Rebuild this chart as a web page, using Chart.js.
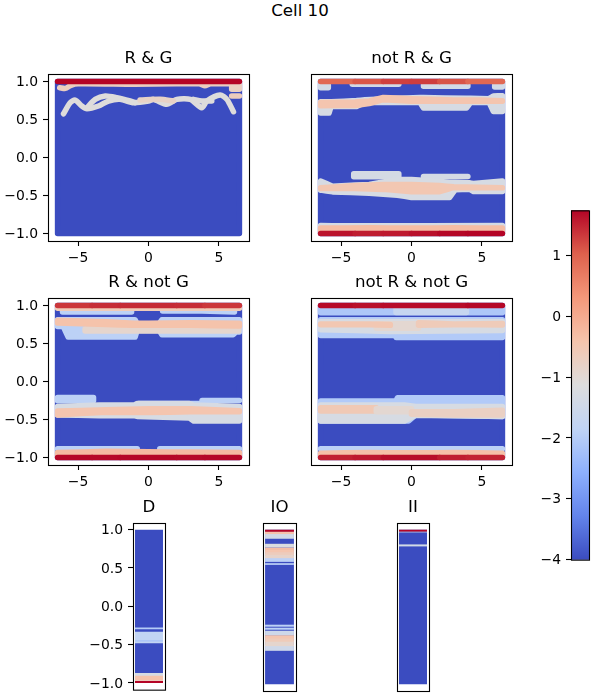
<!DOCTYPE html>
<html><head><meta charset="utf-8">
<script src="https://cdn.jsdelivr.net/npm/chart.js@4"></script>
<style>
html,body{margin:0;padding:0;background:#fff;width:600px;height:700px;overflow:hidden}
canvas{position:absolute}
#sup{position:absolute;left:0;top:1px;width:600px;text-align:center;font:16.67px/19px "DejaVu Sans";color:#000}
</style></head><body>
<div id="sup">Cell 10</div>
<script>
// ---- data: each band is [colour value, x[], lower y[], upper y[]]
const LEFT = -6.45, RIGHT = 6.45;
const base = [-4, [LEFT, RIGHT], [-1, -1], [1, 1]];

const bandsRG = [
  base,
  [-0.7, [-6.3,-5.9,-5.5,-5,-1,2,3.6,4,4.4,5.8,6.45], [.92,.91,.95,.97,.965,.97,.97,.945,.97,.97,.97]],
  [-0.75, [5.9,6.45], [.90,.90], [.95,.95]],
  [-0.65, [5.9,6.45], [.81,.81]],
  [-1.1, [-6.03,-5.56,-5.2,-4.73,-4.37,-3.55,-2.84,-2.01,-1.06,0,.35,1.3,2.01,2.96,3.78,4.14,5.08,5.56,6.03],
          [.576,.722,.757,.678,.642,.678,.744,.766,.722,.744,.766,.70,.766,.766,.656,.744,.823,.766,.603]],
  [-1.1, [-4.37,-3.78,-3.07,-2.25,-1.3,-.95], [.656,.766,.81,.788,.744,.722]],
  [-1.1, [3.19,3.78,4.49], [.766,.744,.744]],
  [-0.8, [-.6,.83,1.77], [.757,.766,.744]],
  [1.74, [LEFT, RIGHT], [1, 1]],
];

const bandsNotRG = [
  base,
  [-1.4, [LEFT,-5.9], [.918,.918], [.96,.96]],
  [-1.4, [-4.2,-.9], [.965,.965]],
  [-1.4, [.85,4], [.938,.938], [.96,.96]],
  [-1.4, [5.9,RIGHT], [.93,.93], [.96,.96]],
  [-1.3, [LEFT,-5.85,-5.7,-3.9,-3.3,.6,.85,3.9,4.2,5.5,5.8,RIGHT],
         [.585,.585,.673,.673,.726,.726,.651,.651,.726,.726,.607,.607],
         [.735,.735,.735,.75,.762,.79,.79,.78,.78,.775,.81,.815]],
  [-0.45, [LEFT,-4,-3,-2,0,3,5,RIGHT],
         [.682,.686,.71,.762,.74,.74,.74,.74],
         [.726,.73,.744,.79,.775,.757,.757,.748]],
  [-1.35, [-4.1,-.9], [-.254,-.254], [-.214,-.214]],
  [-1.35, [.85,4], [-.25,-.25]],
  [-1.3, [LEFT,-5.6,-3,-1,0,2.7,3.1,4.1,4.4,RIGHT],
         [-.43,-.453,-.47,-.497,-.528,-.528,-.426,-.417,-.448,-.448],
         [-.311,-.378,-.355,-.29,-.29,-.325,-.325,-.333,-.342,-.311]],
  [-0.5, [LEFT,-4,-2,0,2,3,RIGHT],
         [-.408,-.408,-.42,-.45,-.45,-.395,-.40],
         [-.40,-.37,-.355,-.355,-.37,-.385,-.40]],
  [-1.35, [LEFT,-4.8,-4,RIGHT], [-.895,-.9,-.9,-.895]],
  [-0.3, [LEFT,-3,0,3,RIGHT], [-.97,-.97,-.97,-.97,-.97], [-.93,-.925,-.93,-.925,-.93]],
  [[.85,1.0,1.2,1.35,1.25,1.0,.85], [LEFT,-4,-2,0,2,4,RIGHT], [1,1,1,1,1,1,1]],
  [[1.7,1.55,1.55,1.6,1.7,1.74,1.74], [LEFT,-4,-2,0,2,4,RIGHT], [-1,-1,-1,-1,-1,-1,-1]],
];

const bandsRNotG = [
  base,
  [-1.9, [-6.1,-1.2], [.916,.916], [.96,.96]],
  [-1.9, [1,3.8,6.1], [.93,.93,.916], [.96,.96,.96]],
  [-0.6, [LEFT,RIGHT], [.965,.965]],
  [-1.9, [LEFT,-6.05,-5.7,-.95,-.8,.75,.95,6,6.2,RIGHT],
         [.726,.726,.585,.585,.673,.673,.616,.616,.651,.651],
         [.815,.815,.815,.815,.757,.757,.815,.815,.815,.815]],
  [-0.9, [-4.5,-.5,1,6.4], [.665,.665,.665,.665], [.69,.69,.69,.69]],
  [-0.4, [LEFT,-3,-1,0,3,RIGHT],
         [.77,.75,.74,.74,.74,.73],
         [.806,.788,.766,.766,.775,.766]],
  [-1.9, [LEFT,-3.9], [-.254,-.254], [-.21,-.21]],
  [-1.9, [-.7,3.9], [-.29,-.29]],
  [-1.9, [3.8,RIGHT], [-.25,-.25]],
  [-1.3, [LEFT,-3.5,-1,-.8,2.9,3.2,RIGHT],
         [-.44,-.45,-.45,-.46,-.48,-.52,-.52],
         [-.33,-.31,-.31,-.29,-.29,-.31,-.33]],
  [-0.45, [LEFT,-3,0,3,RIGHT],
         [-.44,-.404,-.41,-.40,-.40],
         [-.39,-.373,-.36,-.36,-.386]],
  [-1.9, [LEFT,-.8], [-.885,-.885]],
  [-1.9, [.8,RIGHT], [-.885,-.885]],
  [-0.25, [LEFT,-3,0,3,RIGHT], [-.97,-.97,-.97,-.97,-.97], [-.935,-.92,-.925,-.93,-.935]],
  [[1.3,1.4,1.45,1.45,1.45,1.4,1.3], [LEFT,-4,-2,0,2,4,RIGHT], [1,1,1,1,1,1,1]],
  [[1.74,1.7,1.7,1.74,1.7,1.7,1.74], [LEFT,-4,-2,0,2,4,RIGHT], [-1,-1,-1,-1,-1,-1,-1]],
];

const bandsNotRNotG = [
  base,
  [-2.1, [LEFT,RIGHT], [.907,.907], [.965,.965]],
  [-1.7, [-1.1,3.9], [.91,.91], [.96,.96]],
  [-2.05, [LEFT,-1.15,-1.1,RIGHT], [.607,.607,.58,.58], [.815,.815,.815,.815]],
  [-1.3, [LEFT,-1.5,RIGHT], [.682,.66,.673], [.79,.79,.79]],
  [-0.95, [-2.5,.5], [.70,.70], [.76,.76]],
  [-0.5, [LEFT,-3,-1.5], [.748,.748,.74], [.757,.757,.75]],
  [-0.6, [.5,3,RIGHT], [.74,.748,.745], [.775,.757,.765]],
  [-2.05, [LEFT,-1.1,-1,-.2,.3,RIGHT],
         [-.52,-.52,-.52,-.52,-.44,-.46],
         [-.258,-.258,-.214,-.214,-.214,-.214]],
  [-1.3, [LEFT,-.5,.3,RIGHT], [-.52,-.52,-.444,-.46], [-.31,-.31,-.33,-.33]],
  [-0.55, [LEFT,-2.5], [-.387,-.387], [-.347,-.347]],
  [-0.95, [-2.5,0], [-.40,-.40], [-.36,-.36]],
  [-0.75, [0,3,RIGHT], [-.43,-.44,-.44], [-.40,-.40,-.38]],
  [-1.9, [LEFT,RIGHT], [-.885,-.885]],
  [-0.35, [LEFT,-3,0,3,RIGHT], [-.97,-.97,-.97,-.97,-.97], [-.945,-.935,-.94,-.935,-.945]],
  [[1.5,1.55,1.6,1.74,1.6,1.5,1.5], [LEFT,-4,-2,0,2,4,RIGHT], [-1,-1,-1,-1,-1,-1,-1]],
  [[1.74,1.65,1.65,1.7,1.65,1.7,1.74], [LEFT,-4,-2,0,2,4,RIGHT], [1,1,1,1,1,1,1]],
];

// strips: [colour value, lower y, upper y]; earlier rows lie under later ones
const stripD = [
  [-4,-.87,1], [-2.0,-.299,-.277], [-1.8,-.481,-.333], [-2.2,-.459,-.442],
  [-1.3,-.975,-.87], [-.4,-.97,-.905], [1.74,-1,-.975],
];
const stripIO = [
  [-4,-1,1], [-1.4,.883,.974], [-.4,.944,.98], [1.74,.974,1],
  [-1.9,.584,.66], [-.85,.632,.69], [-.65,.675,.72], [-.45,.71,.75], [-.3,.74,.771], [-1.2,.771,.818],
  [-1.9,.545,.567], [-1.9,-.255,-.229], [-1.9,-.294,-.268],
  [-1.5,-.567,-.49], [-.9,-.506,-.44], [-.6,-.45,-.40], [-.45,-.407,-.364], [-1.5,-.364,-.307],
];
const stripII = [[-4,-1,1], [1.74,.974,1], [-1.4,.965,.974], [-1.4,.784,.81]];

const colorbarRange = [-4, 1.74];
const coolwarmStops = [[59,76,192],[99,132,235],[141,176,254],[192,212,245],[221,221,221],[245,196,172],[244,152,122],[222,97,77],[180,4,38]];

// ---- helpers
const VMIN = -4, VMAX = 1.74;
function coolwarm(v){
  const t = Math.min(1, Math.max(0, (v - VMIN) / (VMAX - VMIN))) * (coolwarmStops.length - 1);
  const i = Math.min(coolwarmStops.length - 2, Math.floor(t)), f = t - i;
  const c = coolwarmStops[i].map((a, k) => Math.round(a + (coolwarmStops[i + 1][k] - a) * f));
  return `rgb(${c[0]},${c[1]},${c[2]})`;
}
const minus = s => String(s).replace('-', '\u2212');
Chart.defaults.font.family = '"DejaVu Sans"';
Chart.defaults.font.size = 13.9;
Chart.defaults.color = '#000';
Chart.defaults.animation = false;
const framePlugin = {id:'frame', afterDraw(c){
  const a = c.chartArea, g = c.ctx; g.save(); g.strokeStyle = '#000'; g.lineWidth = 1.1;
  g.strokeRect(a.left + .5, a.top + .5, a.right - a.left, a.bottom - a.top); g.restore();
}};
const TITLE_H = 24, AXIS_H = 26, AXIS_W = 44, PAD_R = 14;
function place(id, left, top, w, h){
  const c = document.createElement('canvas');
  c.id = id; c.width = w; c.height = h;
  c.style.left = left + 'px'; c.style.top = top + 'px';
  c.style.width = w + 'px'; c.style.height = h + 'px';
  document.body.appendChild(c); return c;
}
const tickGrid = {display:true, drawOnChartArea:false, drawTicks:true, tickLength:5, tickColor:'#000', tickWidth:1.1};
function titleOpt(text){
  return {display:true, text, color:'#000', fullSize:false, font:{size:16.67, weight:'normal', lineHeight:1}, padding:{top:0, bottom:TITLE_H - 16.67}};
}
function bandDatasets(bands){
  const out = [];
  const common = {showLine:true, pointRadius:0, borderWidth:5.5, borderCapStyle:'round', borderJoinStyle:'round', spanGaps:true};
  bands.forEach(b => {
    const [v, xs, lo, hi] = b;
    const vals = Array.isArray(v) ? v : null;
    const col = vals ? coolwarm(vals[0]) : coolwarm(v);
    if (hi) {
      // outline: along the lower edge, back along the upper edge, closed
      const path = xs.map((x,i)=>({x, y:lo[i]}));
      for (let i = xs.length - 1; i >= 0; i--) path.push({x:xs[i], y:hi[i]});
      path.push({x:xs[0], y:lo[0]});
      out.unshift({...common, tension:0.001, borderColor:col, backgroundColor:col, fill:'shape', data:path});
    } else {
      const ds = {...common, tension:vals ? 0 : 0.25, borderColor:col, fill:false, data:xs.map((x,i)=>({x, y:lo[i]}))};
      if (vals) ds.segment = {borderColor: ctx => coolwarm((vals[ctx.p0DataIndex] + vals[ctx.p1DataIndex]) / 2)};
      out.unshift(ds);
    }
  });
  return out;
}
function scatterPanel(id, title, bands, left, top, showY){
  const W = 201, H = 167;
  const cv = place(id, left - AXIS_W, top - TITLE_H, AXIS_W + W + PAD_R, TITLE_H + H + AXIS_H);
  new Chart(cv, {
    type:'scatter',
    data:{datasets:bandDatasets(bands)},
    plugins:[framePlugin],
    options:{
      responsive:false, devicePixelRatio:1,
      layout:{padding:{left:0, right:PAD_R, top:0, bottom:0}},
      plugins:{legend:{display:false}, tooltip:{enabled:false}, title:titleOpt(title)},
      scales:{
        x:{type:'linear', min:-7.13, max:7.13, border:{display:false}, grid:tickGrid,
           ticks:{stepSize:5, includeBounds:false, maxRotation:0, padding:4, callback:v=>minus(v)},
           afterFit:s=>{s.height = AXIS_H;}},
        y:{display:showY, type:'linear', min:-1.1, max:1.1, border:{display:false}, grid:tickGrid,
           ticks:{stepSize:.5, includeBounds:false, padding:5, labelOffset:1, callback:v=>minus(Number(v).toFixed(1))},
           afterFit:s=>{s.width = AXIS_W;}},
      },
    },
  });
}
function stripPanel(id, title, strip, left, w, showY){
  const top = 523, H = 168, extra = 12;
  const cv = place(id, left - AXIS_W, top - TITLE_H, AXIS_W + w + PAD_R, TITLE_H + H + extra);
  new Chart(cv, {
    type:'bar',
    data:{labels:[title], datasets:strip.slice().reverse().map(r => ({
      data:[[r[1], r[2]]], backgroundColor:coolwarm(r[0]), borderWidth:0, barPercentage:.875, categoryPercentage:1,
    }))},
    plugins:[framePlugin],
    options:{
      responsive:false, devicePixelRatio:1,
      layout:{padding:{left:0, right:PAD_R, top:0, bottom:0}},
      plugins:{legend:{display:false}, tooltip:{enabled:false}, title:titleOpt(title)},
      scales:{
        x:{stacked:true, border:{display:false}, grid:{display:false}, ticks:{display:false}, afterFit:s=>{s.height = extra;}},
        y:{display:showY, type:'linear', min:-1.087, max:1.087, border:{display:false}, grid:tickGrid,
           ticks:{stepSize:.5, includeBounds:false, padding:5, labelOffset:1, callback:v=>minus(Number(v).toFixed(1))},
           afterFit:s=>{s.width = AXIS_W;}},
      },
    },
  });
}
function colorbar(left, top, w, h){
  const cv = place('cbar', left - 44, top - 13, w + 44 + 2, h + 26);
  const stops = coolwarmStops;
  new Chart(cv, {
    type:'bar',
    data:{labels:[''], datasets:[{
      data:[colorbarRange],
      borderWidth:0, barPercentage:1, categoryPercentage:1,
      backgroundColor(ctx){
        const a = ctx.chart.chartArea; if (!a) return '#888';
        const g = ctx.chart.ctx.createLinearGradient(0, a.bottom, 0, a.top);
        stops.forEach((c,i)=>g.addColorStop(i/(stops.length-1), `rgb(${c[0]},${c[1]},${c[2]})`));
        return g;
      },
    }]},
    plugins:[framePlugin],
    options:{
      responsive:false, devicePixelRatio:1,
      layout:{padding:{top:8, bottom:8, left:0, right:2}},
      plugins:{legend:{display:false}, tooltip:{enabled:false}},
      scales:{
        x:{border:{display:false}, grid:{display:false}, ticks:{display:false}, afterFit:s=>{s.height = 0;}},
        y:{position:'left', type:'linear', min:colorbarRange[0], max:colorbarRange[1], border:{display:false}, grid:tickGrid,
           ticks:{stepSize:1, includeBounds:false, padding:5, labelOffset:1, callback:v=>minus(v)},
           afterFit:s=>{s.width = 44;}},
      },
    },
  });
}
scatterPanel('p1','R & G',bandsRG,48,74,true);
scatterPanel('p2','not R & G',bandsNotRG,311,74,false);
scatterPanel('p3','R & not G',bandsRNotG,48,298,true);
scatterPanel('p4','not R & not G',bandsNotRNotG,311,298,false);
stripPanel('s1','D',stripD,133,32,true);
stripPanel('s2','IO',stripIO,263,33,false);
stripPanel('s3','II',stripII,397,32,false);
colorbar(571,210,18,350);
</script>
</body></html>
